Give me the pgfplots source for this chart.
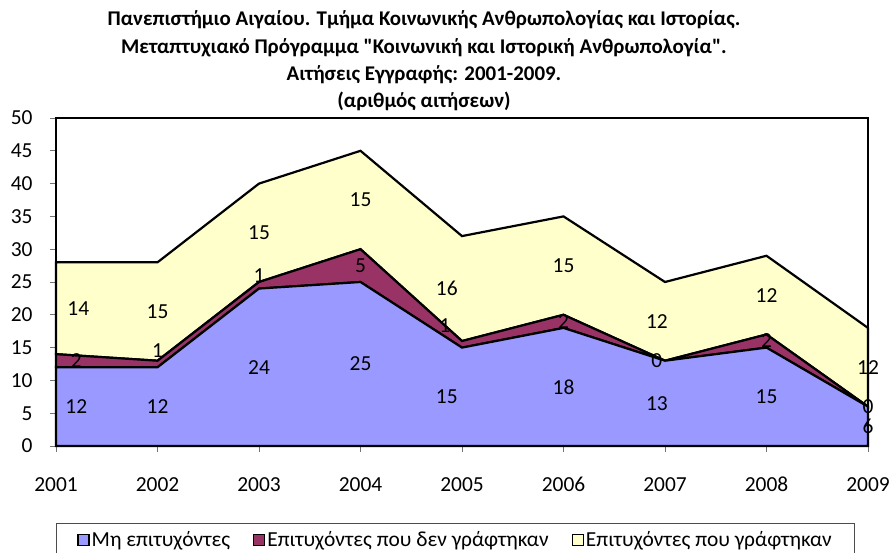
\documentclass[border=0pt]{standalone}
\usepackage{fontspec}
\setmainfont{Carlito}[Ligatures=TeXOff]
\usepackage{pgfplots}
\pgfplotsset{compat=1.18}
\definecolor{cblue}{RGB}{153,153,255}
\definecolor{cred}{RGB}{153,51,102}
\definecolor{cyel}{RGB}{255,255,204}
\newcommand{\tfont}{\fontsize{21.5}{25}\selectfont}
\begin{document}
\begin{tikzpicture}
\useasboundingbox (-56bp,-107bp) rectangle (835bp,446bp);
\begin{axis}[
  at={(0,0)}, anchor=south west,
  scale only axis, width=812bp, height=328bp,
  xmin=2001, xmax=2009, ymin=0, ymax=50,
  xtick={2001,2002,2003,2004,2005,2006,2007,2008,2009},
  xticklabels={2001,2002,2003,2004,2005,2006,2007,2008,2009},
  ytick={0,5,...,50},
  stack plots=y,
  tick align=outside, major tick length=6bp,
  xtick pos=bottom, ytick pos=left,
  tick style={black!55, line width=0.7bp},
  axis line style={black, line width=1.5bp},
  font=\tfont,
  /pgf/number format/assume math mode=true,
  yticklabel style={xshift=-14bp},
  xticklabel style={yshift=-22bp, text height=14bp, text depth=0bp},
  clip=false,
  legend columns=3,
  legend style={at={(0bp,-77bp)}, anchor=north west, draw=black!70, line width=0.8bp,
    font=\tfont, inner xsep=21bp, inner ysep=6bp,
    /tikz/every even column/.append style={column sep=21bp}},
  legend image code/.code={\draw[#1, draw=black, line width=1.3bp] (0bp,-5.5bp) rectangle (11bp,5.5bp);},
  nodes near coords style={font=\tfont, anchor=center, inner sep=0pt},
]
\addplot[fill=cblue, draw=black, line width=2.2bp] coordinates {
 (2001,12) (2002,12) (2003,24) (2004,25) (2005,15) (2006,18) (2007,13) (2008,15) (2009,6)} \closedcycle;
\addlegendentry{Μη επιτυχόντες}
\addplot[fill=cred, draw=black, line width=2.2bp] coordinates {
 (2001,2) (2002,1) (2003,1) (2004,5) (2005,1) (2006,2) (2007,0) (2008,2) (2009,0)} \closedcycle;
\addlegendentry{Επιτυχόντες που δεν γράφτηκαν}
\addplot[fill=cyel, draw=black, line width=2.2bp] coordinates {
 (2001,14) (2002,15) (2003,15) (2004,15) (2005,16) (2006,15) (2007,12) (2008,12) (2009,12)} \closedcycle;
\addlegendentry{Επιτυχόντες που γράφτηκαν}
% data labels
\addplot[stack plots=false, forget plot, draw=none, mark=none, nodes near coords, point meta=explicit symbolic] coordinates {
 (2001.2,6)[12] (2002,6)[12] (2003,12)[24] (2004,12.5)[25] (2004.85,7.5)[15] (2006,9)[18] (2006.92,6.5)[13] (2008,7.5)[15] (2009,3)[6]};
\addplot[stack plots=false, forget plot, draw=none, mark=none, nodes near coords, point meta=explicit symbolic] coordinates {
 (2001.2,13)[2] (2002,14.6)[1] (2003,26)[1] (2004,27.5)[5] (2004.83,18.4)[1] (2006,19)[2] (2006.92,13)[0] (2008,16)[2] (2009,6)[0]};
\addplot[stack plots=false, forget plot, draw=none, mark=none, nodes near coords, point meta=explicit symbolic] coordinates {
 (2001.22,21)[14] (2002,20.5)[15] (2003,32.5)[15] (2004,37.5)[15] (2004.85,24)[16] (2006,27.5)[15] (2006.92,19)[12] (2008,23)[12] (2009,12)[12]};
\end{axis}
\node[align=center, font=\fontsize{21}{27.5}\selectfont\bfseries] at (368bp,385bp)
 {Πανεπιστήμιο Αιγαίου. Τμήμα Κοινωνικής Ανθρωπολογίας και Ιστορίας.\\
  Μεταπτυχιακό Πρόγραμμα "Κοινωνική και Ιστορική Ανθρωπολογία".\\
  Αιτήσεις Εγγραφής: 2001-2009.\\
  (αριθμός αιτήσεων)};
\end{tikzpicture}
\end{document}
